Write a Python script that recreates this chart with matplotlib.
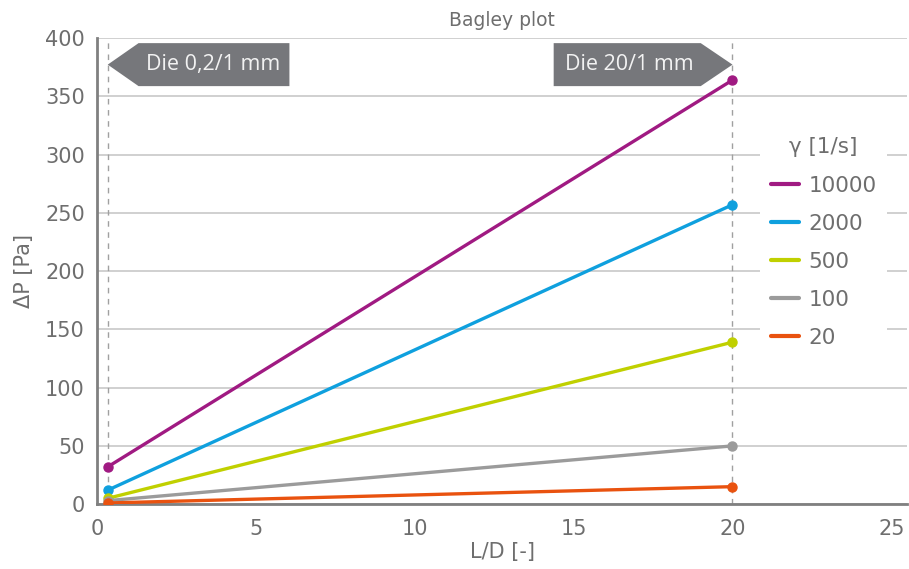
import matplotlib
matplotlib.use("Agg")
import matplotlib.pyplot as plt
from matplotlib.patches import Polygon

# Data
die_ld = [0.33, 20]                 # L/D of the two dies
die_labels = ["Die 0,2/1 mm", "Die 20/1 mm"]
shear_rates = ["10000", "2000", "500", "100", "20"]
dp_10000 = [32, 364]
dp_2000 = [12, 257]
dp_500 = [5, 139]
dp_100 = [3, 50]
dp_20 = [1, 15]
series = [dp_10000, dp_2000, dp_500, dp_100, dp_20]
colors = ["#a01a82", "#0fa0de", "#c0d000", "#9b9b9b", "#e9520f"]

plt.rcParams['font.family'] = ['DejaVu Sans']
TXT = "#6e6e6e"

fig = plt.figure(figsize=(9.09, 5.69), dpi=100)
ax = fig.add_axes([0.107, 0.114, 0.891, 0.819])

for vals, c, lab in zip(series, colors, shear_rates):
    ax.plot(die_ld, vals, color=c, lw=2.4, marker='o', ms=6.5,
            solid_capstyle='round', label=lab, zorder=4)

for x in die_ld:
    ax.axvline(x, color="#a0a0a0", lw=1.0, ls=(0, (4, 4)), zorder=2)

ax.set_xlim(0, 25.5)
ax.set_ylim(0, 400)
ax.set_xticks([0, 5, 10, 15, 20, 25])
ax.set_yticks(range(0, 401, 50))
ax.grid(axis='y', color="#c8c8c8", lw=1.2, zorder=1)
ax.set_axisbelow(True)
for s in ['top', 'right']:
    ax.spines[s].set_visible(False)
for s in ['left', 'bottom']:
    ax.spines[s].set_color("#808080")
    ax.spines[s].set_linewidth(2.0)
ax.tick_params(length=0, labelsize=15, labelcolor=TXT)
ax.tick_params(axis='x', pad=11)
ax.tick_params(axis='y', pad=9)

ax.set_title("Bagley plot", fontsize=13.5, color=TXT, pad=9)
ax.set_xlabel("L/D [-]", fontsize=15, color=TXT, labelpad=2)
ax.set_ylabel("ΔP [Pa]", fontsize=15, color=TXT, labelpad=8)

# Die arrow labels
box_col = "#76777b"
ytop, ybot = 395.7, 358.8
ymid = (ytop + ybot) / 2
left = Polygon([(die_ld[0], ymid), (1.3, ytop), (6.05, ytop), (6.05, ybot), (1.3, ybot)],
               closed=True, color=box_col, zorder=5, lw=0)
right = Polygon([(14.37, ytop), (19.0, ytop), (die_ld[1], ymid), (19.0, ybot), (14.37, ybot)],
                closed=True, color=box_col, zorder=5, lw=0)
ax.add_patch(left)
ax.add_patch(right)
ax.text(3.65, ymid, die_labels[0], color="#f2f2f2", fontsize=15.5, family="Open Sans",
        ha='center', va='center', zorder=6)
ax.text(16.75, ymid, die_labels[1], color="#f2f2f2", fontsize=15.5, family="Open Sans",
        ha='center', va='center', zorder=6)

leg = ax.legend(loc='upper left', bbox_to_anchor=(0.818, 0.81), frameon=True,
                facecolor='white', edgecolor='none', framealpha=1,
                fontsize=15.5, handlelength=1.3, handletextpad=0.45,
                labelspacing=0.84, borderaxespad=0, borderpad=0.5,
                title="γ [1/s]", title_fontsize=15.5)
for t in leg.get_texts():
    t.set_color(TXT)
leg.get_title().set_color(TXT)
for h in leg.legend_handles:
    h.set_marker('')
    h.set_linewidth(3)
leg.set_zorder(7)

fig.savefig("out.png", dpi=100)
